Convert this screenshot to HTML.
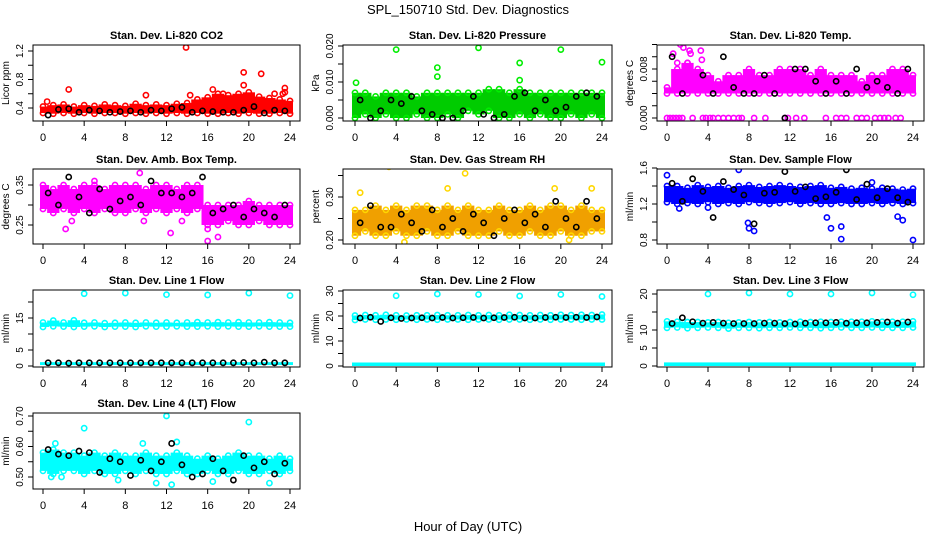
<!DOCTYPE html>
<html><head><meta charset="utf-8"><style>
html,body{margin:0;padding:0;background:#fff;}
svg{display:block;font-family:"Liberation Sans",sans-serif;}
</style></head><body>
<svg id="chart" width="936" height="540" viewBox="0 0 936 540" xmlns="http://www.w3.org/2000/svg">
<text x="468" y="14" font-size="13" text-anchor="middle">SPL_150710  Std. Dev. Diagnostics</text>
<text x="468" y="531" font-size="13" text-anchor="middle">Hour of Day (UTC)</text>
</svg>
<script>
// x tick labels (hours)
const xTicks = [0,4,8,12,16,20,24];

// Panel 1: CO2
const co2Lo = [0.33,0.32,0.33,0.32,0.33,0.32,0.33,0.33,0.32,0.33,0.32,0.33,0.32,0.33,0.32,0.33,0.32,0.32,0.33,0.32,0.33,0.32,0.32,0.33,0.32];
const co2Hi = [0.42,0.44,0.45,0.42,0.44,0.43,0.45,0.44,0.43,0.46,0.44,0.45,0.44,0.46,0.47,0.52,0.55,0.60,0.58,0.60,0.62,0.56,0.54,0.52,0.50];
const co2Black = [0.30,0.38,0.39,0.34,0.37,0.36,0.34,0.35,0.36,0.34,0.37,0.36,0.39,0.41,0.34,0.36,0.35,0.34,0.34,0.37,0.42,0.33,0.37,0.36];
const co2OutT = [0.4,2.5,10,13.9,14.3,16.5,17.5,19.5,19.5,21.2,23.3,23.5,23.5,22.5];
const co2OutV = [0.49,0.66,0.58,1.25,0.58,0.66,0.60,0.90,0.72,0.88,0.60,0.68,0.62,0.60];

// Panel 2: Pressure
const presLo = [0,0.001,0,0.001,0,0,0.001,0,0,0.001,0,0.002,0.001,0.002,0,0,0.001,0,0.001,0,0,0.001,0,0.001,0];
const presHi = [0.007,0.007,0.006,0.007,0.007,0.007,0.006,0.007,0.007,0.007,0.007,0.007,0.007,0.008,0.008,0.007,0.008,0.007,0.007,0.007,0.007,0.007,0.007,0.007,0.007];
const presBlack = [0.005,0.000,0.002,0.005,0.004,0.006,0.002,0.001,0.000,0.000,0.002,0.006,0.001,0.000,0.001,0.006,0.007,0.002,0.005,0.002,0.003,0.006,0.007,0.006];
const presOutT = [0.1,4,8,8,12,16,16,20,24];
const presOutV = [0.0098,0.019,0.014,0.0115,0.0195,0.0153,0.0105,0.019,0.0155];

// Panel 3: Li-820 Temp
const ltLo = [0.004,0.004,0.004,0.004,0.004,0.004,0.004,0.004,0.004,0.004,0.004,0.004,0.004,0.004,0.004,0.004,0.004,0.004,0.004,0.004,0.004,0.004,0.004,0.004,0.004];
const ltHi = [0.005,0.008,0.009,0.008,0.007,0.006,0.007,0.007,0.008,0.007,0.007,0.008,0.008,0.008,0.007,0.008,0.007,0.007,0.007,0.006,0.007,0.007,0.008,0.008,0.007];
const ltBlack = [0.010,0.004,0.013,0.007,0.004,0.010,0.005,0.004,0.004,0.007,0.004,0.000,0.008,0.008,0.006,0.004,0.006,0.004,0.008,0.005,0.006,0.005,0.004,0.008];
const ltOutT = [0,0.3,0.6,0.9,1.2,1.5,2.5,3.5,3.8,4.2,4.5,5,5.5,6,6.5,7,7.3,8.5,9.6,11.5,11.8,12.6,13.4,15.5,16.5,17,17.5,18.5,19,19.5,20.3,20.8,21.2,21.6,22.3,22.8,0.6,1.3,1.6,2.2,2.3,3.3,3.4,1.0,2.0];
const ltOutV = [0,0,0,0,0,0,0,0,0,0,0,0,0,0,0,0,0,0,0,0,0,0,0,0,0,0,0,0,0,0,0,0,0,0,0,0,0.0105,0.012,0.0115,0.011,0.0105,0.011,0.0095,0.009,0.009];

// Panel 4: Amb Box Temp
const abLo = [0.29,0.28,0.29,0.28,0.29,0.28,0.29,0.28,0.28,0.29,0.28,0.29,0.28,0.29,0.28,0.29,0.25,0.25,0.26,0.25,0.25,0.26,0.25,0.25,0.25];
const abHi = [0.35,0.34,0.35,0.34,0.35,0.35,0.34,0.35,0.35,0.35,0.34,0.35,0.35,0.34,0.35,0.35,0.30,0.30,0.30,0.30,0.31,0.30,0.30,0.30,0.30];
const abBlack = [0.33,0.30,0.37,0.32,0.28,0.34,0.29,0.31,0.32,0.30,0.36,0.33,0.33,0.32,0.33,0.37,0.28,0.29,0.30,0.27,0.29,0.28,0.27,0.30];
const abOutT = [2.2,2.8,5,9.4,9.8,12.4,13.5,16,16,17];
const abOutV = [0.24,0.26,0.36,0.38,0.26,0.23,0.26,0.24,0.21,0.22];

// Panel 5: Gas Stream RH
const rhLo = [0.21,0.22,0.21,0.21,0.22,0.21,0.21,0.22,0.21,0.21,0.22,0.21,0.21,0.21,0.22,0.21,0.21,0.22,0.21,0.21,0.22,0.21,0.21,0.22,0.22];
const rhHi = [0.27,0.27,0.28,0.27,0.28,0.27,0.28,0.28,0.27,0.28,0.27,0.28,0.27,0.27,0.28,0.27,0.27,0.28,0.27,0.28,0.28,0.27,0.28,0.27,0.27];
const rhBlack = [0.24,0.28,0.23,0.23,0.26,0.24,0.22,0.27,0.23,0.25,0.22,0.26,0.24,0.21,0.25,0.27,0.24,0.26,0.23,0.29,0.25,0.23,0.29,0.25];
const rhOutT = [3.3,10.7,9,19.4,23,0.5,4.8,20.8];
const rhOutV = [0.37,0.355,0.32,0.32,0.32,0.31,0.195,0.20];

// Panel 6: Sample Flow
const sfLo = [1.22,1.20,1.21,1.20,1.22,1.20,1.21,1.20,1.22,1.21,1.20,1.21,1.22,1.20,1.21,1.20,1.20,1.21,1.20,1.20,1.21,1.20,1.21,1.20,1.21];
const sfHi = [1.40,1.40,1.38,1.41,1.39,1.40,1.38,1.40,1.41,1.39,1.40,1.41,1.40,1.39,1.40,1.41,1.38,1.39,1.37,1.38,1.37,1.38,1.37,1.36,1.37];
const sfBlack = [1.43,1.23,1.48,1.34,1.05,1.45,1.36,1.30,0.98,1.32,1.33,1.56,1.34,1.39,1.26,1.28,1.33,1.58,1.25,1.42,1.27,1.37,1.27,1.22];
const sfOutT = [0,7,8,8.5,16,17,17,24,15.6,22.5,23,20,7.9,1.2,4];
const sfOutV = [1.52,1.58,0.93,0.90,0.93,0.81,0.95,0.80,1.05,1.06,1.02,1.44,0.99,1.15,1.16];

// Panel 7: Line 1 Flow
const l1Lo = [12.2,12.4,12.3,12.2,12.3,12.4,12.2,12.3,12.3,12.2,12.4,12.3,12.3,12.4,12.3,12.3,12.4,12.3,12.4,12.3,12.3,12.4,12.3,12.3,12.3];
const l1Hi = [13.6,14.2,13.6,14.3,13.5,13.6,13.4,13.5,13.6,13.5,13.6,13.5,13.6,13.5,13.6,13.7,13.6,13.7,13.6,13.7,13.6,13.6,13.7,13.6,13.5];
const l1Black = [1.0,1.0,0.9,1.0,1.0,1.0,1.0,1.0,1.0,1.0,1.0,1.0,1.0,1.0,1.0,1.0,1.0,1.0,1.0,1.1,1.0,1.2,1.0,1.0];
const l1OutT = [4,8,12,16,20,24];
const l1OutV = [22.6,22.8,22.3,22.2,22.8,22.0];

// Panel 8: Line 2 Flow
const l2Lo = [18.4,18.6,18.5,18.6,18.5,18.6,18.5,18.6,18.5,18.6,18.6,18.5,18.6,18.6,18.5,18.6,18.6,18.5,18.6,18.5,18.6,18.6,18.5,18.6,18.6];
const l2Hi = [20.2,20.4,20.3,20.5,20.3,20.2,20.3,20.3,20.4,20.3,20.3,20.4,20.3,20.4,20.3,20.5,20.4,20.3,20.4,20.3,20.5,20.4,20.5,20.4,20.6];
const l2Black = [19.2,19.5,17.8,19.3,19.0,19.2,19.3,19.2,19.4,19.2,19.3,19.4,19.2,19.3,19.4,19.5,19.2,19.2,19.4,19.5,19.4,19.5,19.4,19.6];
const l2OutT = [4,8,12,16,20,24];
const l2OutV = [28.1,28.8,28.6,28.0,28.6,27.8];

// Panel 9: Line 3 Flow
const l3Lo = [10.6,10.7,10.5,10.6,10.7,10.6,10.4,10.6,10.6,10.5,10.6,10.6,10.7,10.6,10.6,10.5,10.6,10.7,10.6,10.6,10.7,10.6,10.6,10.6,10.7];
const l3Hi = [12.4,12.3,12.2,12.2,12.1,12.2,12.0,12.1,12.2,12.1,12.2,12.1,12.2,12.3,12.2,12.3,12.2,12.3,12.3,12.3,12.4,12.3,12.3,12.3,12.4];
const l3Black = [11.8,13.4,12.3,11.9,12.1,11.9,11.8,11.8,11.8,11.9,11.9,11.8,11.7,11.9,12.0,12.0,12.1,11.9,12.0,12.0,12.1,12.2,11.9,12.2];
const l3OutT = [4,8,12,16,20,24];
const l3OutV = [20.0,20.3,20.0,20.0,20.3,19.8];

// Panel 10: Line 4 (LT) Flow
const l4Lo = [0.52,0.51,0.52,0.52,0.51,0.52,0.51,0.51,0.52,0.51,0.52,0.51,0.51,0.52,0.51,0.51,0.52,0.51,0.51,0.52,0.51,0.51,0.52,0.51,0.52];
const l4Hi = [0.58,0.59,0.58,0.58,0.57,0.58,0.57,0.58,0.57,0.57,0.58,0.57,0.57,0.58,0.57,0.56,0.57,0.56,0.57,0.58,0.57,0.57,0.56,0.57,0.56];
const l4Black = [0.59,0.575,0.57,0.585,0.58,0.515,0.56,0.55,0.505,0.555,0.52,0.55,0.61,0.54,0.50,0.51,0.56,0.52,0.49,0.57,0.53,0.55,0.51,0.545];
const l4OutT = [4,12,20,1.2,9.7,13,12.5,0.8,1.8,11,16.5,7.3,22];
const l4OutV = [0.66,0.70,0.68,0.61,0.61,0.615,0.475,0.50,0.50,0.48,0.485,0.49,0.48];

const svg = document.getElementById('chart');
const NS = 'http://www.w3.org/2000/svg';
function mk(tag, attrs, parent){
  const e = document.createElementNS(NS, tag);
  for (const k in attrs) e.setAttribute(k, attrs[k]);
  (parent||svg).appendChild(e);
  return e;
}

const cols = [{bl:33,br:300,x0:43,x24:290},{bl:343,br:612,x0:355,x24:602},{bl:657,br:924,x0:667,x24:913}];
const rows = [{bt:45,bb:121},{bt:169,bb:244},{bt:290,bb:367},{bt:413,bb:489}];

const panels = [
 {name:'co2',title:'Stan. Dev. Li-820 CO2',ylab:'Licor ppm',c:0,r:0,ref:[0.4,108,1.2,51],ticks:[0.4,0.6,0.8,1.0,1.2],labels:['0.4','','0.8','','1.2'],lo:co2Lo,hi:co2Hi,blk:co2Black,ot:co2OutT,ov:co2OutV,fill:'#ff0000',stroke:'#ff0000'},
 {name:'pressure',title:'Stan. Dev. Li-820 Pressure',ylab:'kPa',c:1,r:0,ref:[0,118,0.02,46],ticks:[0,0.005,0.01,0.015,0.02],labels:['0.000','','0.010','','0.020'],lo:presLo,hi:presHi,blk:presBlack,ot:presOutT,ov:presOutV,fill:'#00cc00',stroke:'#00ee00'},
 {name:'li-temp',title:'Stan. Dev. Li-820 Temp.',ylab:'degrees C',c:2,r:0,ref:[0,118,0.008,69],ticks:[0,0.002,0.004,0.006,0.008,0.010,0.012],labels:['0.000','','','','0.008','',''],lo:ltLo,hi:ltHi,blk:ltBlack,ot:ltOutT,ov:ltOutV,fill:'#ff00ff',stroke:'#ff00ff'},
 {name:'amb-temp',title:'Stan. Dev. Amb. Box Temp.',ylab:'degrees C',c:0,r:1,ref:[0.25,225,0.35,185],ticks:[0.25,0.30,0.35],labels:['0.25','','0.35'],lo:abLo,hi:abHi,blk:abBlack,ot:abOutT,ov:abOutV,fill:'#ff00ff',stroke:'#ff00ff'},
 {name:'gas-rh',title:'Stan. Dev. Gas Stream RH',ylab:'percent',c:1,r:1,ref:[0.2,240,0.3,197],ticks:[0.20,0.25,0.30,0.35],labels:['0.20','','0.30',''],lo:rhLo,hi:rhHi,blk:rhBlack,ot:rhOutT,ov:rhOutV,fill:'#f0a000',stroke:'#ffd700'},
 {name:'sample-flow',title:'Stan. Dev. Sample Flow',ylab:'ml/min',c:2,r:1,ref:[0.8,240,1.6,168],ticks:[0.8,1.0,1.2,1.4,1.6],labels:['0.8','','1.2','','1.6'],lo:sfLo,hi:sfHi,blk:sfBlack,ot:sfOutT,ov:sfOutV,fill:'#0000ff',stroke:'#0000ff'},
 {name:'line1-flow',title:'Stan. Dev. Line 1 Flow',ylab:'ml/min',c:0,r:2,ref:[0,366,15,318],ticks:[0,5,10,15,20],labels:['0','5','','15',''],lo:l1Lo,hi:l1Hi,blk:l1Black,ot:l1OutT,ov:l1OutV,fill:'#00ffff',stroke:'#00ffff',low:[0.3,1.2]},
 {name:'line2-flow',title:'Stan. Dev. Line 2 Flow',ylab:'ml/min',c:1,r:2,ref:[0,366,30,291],ticks:[0,5,10,15,20,25,30],labels:['0','','10','','20','','30'],lo:l2Lo,hi:l2Hi,blk:l2Black,ot:l2OutT,ov:l2OutV,fill:'#00ffff',stroke:'#00ffff',low:[0,1.4]},
 {name:'line3-flow',title:'Stan. Dev. Line 3 Flow',ylab:'ml/min',c:2,r:2,ref:[0,366,20,294],ticks:[0,5,10,15,20],labels:['0','5','10','','20'],lo:l3Lo,hi:l3Hi,blk:l3Black,ot:l3OutT,ov:l3OutV,fill:'#00ffff',stroke:'#00ffff',low:[0,1.0]},
 {name:'line4-flow',title:'Stan. Dev. Line 4 (LT) Flow',ylab:'ml/min',c:0,r:3,ref:[0.5,477,0.7,416],ticks:[0.50,0.55,0.60,0.65,0.70],labels:['0.50','','0.60','','0.70'],lo:l4Lo,hi:l4Hi,blk:l4Black,ot:l4OutT,ov:l4OutV,fill:'#00ffff',stroke:'#00ffff'}
];

panels.forEach(p=>{
  const col = cols[p.c], row = rows[p.r];
  const xs = t => col.x0 + (col.x24-col.x0)*t/24;
  const [v1,y1,v2,y2] = p.ref;
  const ys = v => y1 + (v-v1)*(y2-y1)/(v2-v1);
  const g = mk('g',{});
  
  
  const clipId = 'clip-'+p.name;
  const cp = mk('clipPath',{id:clipId},g);
  mk('rect',{x:col.bl,y:row.bt,width:col.br-col.bl,height:row.bb-row.bt},cp);
  const bandClip = 'bclip-'+p.name;
  const bcp = mk('clipPath',{id:bandClip},g);
  mk('rect',{x:xs(0)-3,y:row.bt,width:xs(24)-xs(0)+6,height:row.bb-row.bt},bcp);
  const marks = mk('g',{'clip-path':'url(#'+clipId+')'},g);
  
  
  const bands = mk('g',{'clip-path':'url(#'+bandClip+')'},marks);
  
  
  const n = p.lo.length, step = 24/(n-1), w = (col.x24-col.x0)/(n-1);
  if (p.low){
    const lb = mk('rect',{x:xs(0)-3,y:ys(p.low[1]),width:xs(24)-xs(0)+6,height:ys(p.low[0])-ys(p.low[1]),fill:p.fill},bands);
    
    
  }
  for (let i=0;i<n;i++){
    const t=i*step;
    const r = mk('rect',{x:xs(t)-w/2-1,y:ys(p.hi[i]),width:w+2,height:Math.max(1,ys(p.lo[i])-ys(p.hi[i])),fill:p.fill},bands);
    
    
  }
  for (let i=0;i<n;i++){
    const t=i*step;
    [p.lo[i],p.hi[i]].forEach(v=>{
      const c = mk('circle',{cx:xs(t),cy:ys(v),r:2.6,fill:'none',stroke:p.stroke,'stroke-width':1.6},marks);
      
      
    });
  }
  for (let i=0;i<p.ot.length;i++){
    const c = mk('circle',{cx:xs(p.ot[i]),cy:ys(p.ov[i]),r:2.6,fill:'none',stroke:p.stroke,'stroke-width':1.6},marks);
    
    
  }
  const nb = p.blk.length;
  for (let i=0;i<nb;i++){
    const t = 24*(i+0.5)/nb;
    const c = mk('circle',{cx:xs(t),cy:ys(p.blk[i]),r:2.6,fill:'none',stroke:'#000','stroke-width':1.6},marks);
    
    
  }
  const box = mk('rect',{x:col.bl,y:row.bt,width:col.br-col.bl,height:row.bb-row.bt,fill:'none',stroke:'#000','stroke-width':1},g);
  
  
  const tt = mk('text',{x:(col.bl+col.br)/2,y:row.bt-6,'font-size':11,'font-weight':'bold','text-anchor':'middle'},g);
  tt.textContent = p.title;
  
  
  const xa = mk('g',{},g);
  
  
  mk('line',{x1:xs(0),x2:xs(24),y1:row.bb,y2:row.bb,stroke:'#000'},xa);
  xTicks.forEach(t=>{
    mk('line',{x1:xs(t),x2:xs(t),y1:row.bb,y2:row.bb+5,stroke:'#000'},xa);
    const l = mk('text',{x:xs(t),y:row.bb+20,'font-size':11,'text-anchor':'middle'},xa);
    l.textContent = t;
    
    
  });
  const ya = mk('g',{},g);
  
  
  const tk = p.ticks;
  mk('line',{x1:col.bl,x2:col.bl,y1:ys(tk[0]),y2:ys(tk[tk.length-1]),stroke:'#000'},ya);
  tk.forEach((v,i)=>{
    const y = ys(v);
    mk('line',{x1:col.bl-5,x2:col.bl,y1:y,y2:y,stroke:'#000'},ya);
    if (p.labels[i]){
      const l = mk('text',{x:col.bl-10,y:y,'font-size':10,'text-anchor':'middle',transform:'rotate(-90 '+(col.bl-10)+' '+y+')'},ya);
      l.textContent = p.labels[i];
      
      
    }
  });
  const yc = (row.bt+row.bb)/2, yx = col.bl-24;
  const yl = mk('text',{x:yx,y:yc,'font-size':10,'text-anchor':'middle',transform:'rotate(-90 '+yx+' '+yc+')'},g);
  yl.textContent = p.ylab;
  
  
});
</script>
</body></html>
